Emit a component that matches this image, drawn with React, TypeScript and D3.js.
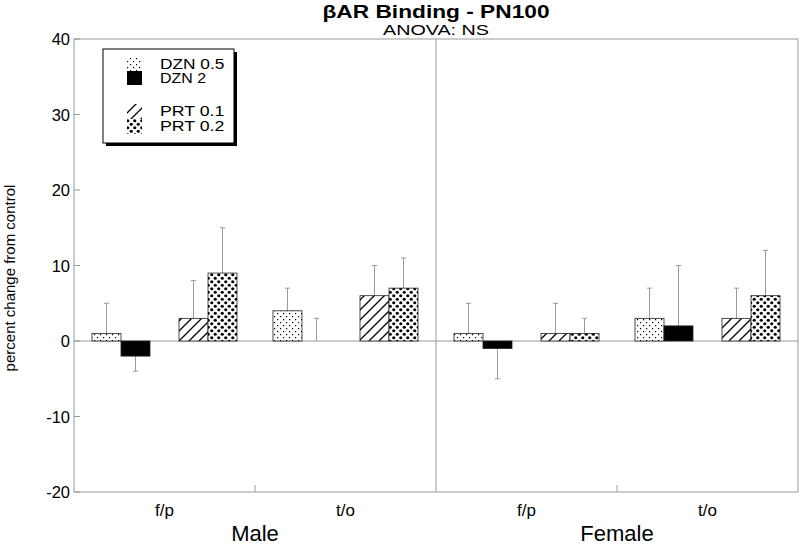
import React from "react";
import * as d3 from "d3";

const groupLabels = ["f/p", "t/o", "f/p", "t/o"];
const groupKeys = ["Male f/p", "Male t/o", "Female f/p", "Female t/o"];
const sexLabels = ["Male", "Female"];
const seriesNames = ["DZN 0.5", "DZN 2", "PRT 0.1", "PRT 0.2"];
const slots = ["DZN 0.5", "DZN 2", "gap", "PRT 0.1", "PRT 0.2"];
const dzn05Mean = [1, 4, 1, 3];
const dzn05Err = [4, 3, 4, 4];
const dzn2Mean = [-2, 0, -1, 2];
const dzn2Err = [2, 3, 4, 8];
const prt01Mean = [3, 6, 1, 3];
const prt01Err = [5, 4, 4, 4];
const prt02Mean = [9, 7, 1, 6];
const prt02Err = [6, 4, 2, 6];
const yTicks = [-20, -10, 0, 10, 20, 30, 40];

const seriesMeans = [dzn05Mean, dzn2Mean, prt01Mean, prt02Mean];
const seriesErrs = [dzn05Err, dzn2Err, prt01Err, prt02Err];
const fills = ["url(#pDots)", "#000", "url(#pHatch)", "url(#pBig)"];

const FONT = "'Liberation Sans', Arial, Helvetica, sans-serif";

export default function App() {
  const W = 800, H = 546;
  const left = 74, right = 798, top = 39, bottom = 492;
  const y = d3.scaleLinear().domain([-20, 40]).range([bottom, top]);
  const xg = d3.scaleBand<string>().domain(groupKeys).range([left, right]).padding(0);
  const xs = d3
    .scaleBand<string>()
    .domain(slots)
    .range([0, xg.bandwidth()])
    .paddingInner(0)
    .paddingOuter(0.62);
  const grey = "#9a9a9a";

  const bars: any[] = [];
  groupKeys.forEach((g, gi) => {
    seriesNames.forEach((s, si) => {
      const v = seriesMeans[si][gi];
      const e = seriesErrs[si][gi];
      bars.push({ g, gi, s, si, v, e, x: (xg(g) as number) + (xs(s) as number), w: xs.bandwidth() });
    });
  });

  const legendItems = [
    { name: seriesNames[0], fill: fills[0], y: 57 },
    { name: seriesNames[1], fill: fills[1], y: 71 },
    { name: seriesNames[2], fill: fills[2], y: 104 },
    { name: seriesNames[3], fill: fills[3], y: 119 },
  ];

  return (
    <svg width={W} height={H} style={{ position: "absolute", left: 0, top: 0, background: "#fff" }} fontFamily={FONT}>
      <defs>
        <pattern id="pDots" width="6" height="6" patternUnits="userSpaceOnUse">
          <rect width="6" height="6" fill="#fff" />
          <rect x="1" y="1" width="1.2" height="1.2" fill="#000" />
          <rect x="4" y="4" width="1.2" height="1.2" fill="#000" />
        </pattern>
        <pattern id="pBig" width="7" height="7" patternUnits="userSpaceOnUse">
          <rect width="7" height="7" fill="#fff" />
          <circle cx="1.75" cy="1.75" r="1.6" fill="#000" />
          <circle cx="5.25" cy="5.25" r="1.6" fill="#000" />
        </pattern>
        <pattern id="pHatch" width="10" height="10" patternUnits="userSpaceOnUse">
          <rect width="10" height="10" fill="#fff" />
          <path d="M-1,11 L11,-1 M-6,6 L6,-6 M4,16 L16,4" stroke="#000" strokeWidth="1.3" />
        </pattern>
      </defs>

      {/* title */}
      <text x={436} y={18} textAnchor="middle" fontSize={19} fontWeight="bold" textLength={227} lengthAdjust="spacingAndGlyphs">
        βAR Binding - PN100
      </text>
      <text x={436} y={35} textAnchor="middle" fontSize={15} textLength={106} lengthAdjust="spacingAndGlyphs">
        ANOVA: NS
      </text>

      {/* frame */}
      <rect x={left} y={top} width={right - left} height={bottom - top} fill="none" stroke={grey} strokeWidth={1} />
      <line x1={xg("Female f/p")} x2={xg("Female f/p")} y1={top} y2={bottom} stroke={grey} strokeWidth={1} />
      {[xg("Male t/o"), xg("Female t/o")].map((x, i) => (
        <line key={i} x1={x} x2={x} y1={bottom} y2={bottom - 7} stroke={grey} strokeWidth={1} />
      ))}

      {/* y axis */}
      {yTicks.map((t) => (
        <g key={t}>
          <line x1={left} x2={left + 6} y1={y(t)} y2={y(t)} stroke={grey} />
          <text x={70} y={y(t) + 6} textAnchor="end" fontSize={16.5}>{t}</text>
        </g>
      ))}
      <text
        transform={`translate(15,278) rotate(-90)`}
        textAnchor="middle"
        fontSize={15}
      >
        percent change from control
      </text>

      {/* zero line */}
      <line x1={left} x2={right} y1={y(0)} y2={y(0)} stroke={grey} strokeWidth={1} />

      {/* error bars */}
      {bars.map((b, i) => {
        const cx = b.x + b.w / 2;
        const end = b.v >= 0 ? b.v + b.e : b.v - b.e;
        return (
          <g key={"e" + i} stroke={grey} strokeWidth={1}>
            <line x1={cx} x2={cx} y1={y(b.v)} y2={y(end)} />
            <line x1={cx - 2.5} x2={cx + 2.5} y1={y(end)} y2={y(end)} />
          </g>
        );
      })}

      {/* bars */}
      {bars.filter((b) => b.v !== 0).map((b, i) => (
        <rect
          key={"b" + i}
          x={b.x}
          y={Math.min(y(b.v), y(0))}
          width={b.w}
          height={Math.abs(y(b.v) - y(0))}
          fill={fills[b.si]}
          stroke="#222"
          strokeWidth={0.8}
        />
      ))}

      {/* category labels */}
      {groupKeys.map((g, i) => (
        <text key={g} x={(xg(g) as number) + xg.bandwidth() / 2} y={516} textAnchor="middle" fontSize={17}>
          {groupLabels[i]}
        </text>
      ))}
      {sexLabels.map((s, i) => (
        <text
          key={s}
          x={(xg(groupKeys[i * 2]) as number) + xg.bandwidth()}
          y={541}
          textAnchor="middle"
          fontSize={22}
        >
          {s}
        </text>
      ))}

      {/* legend */}
      <rect x={106} y={52} width={131} height={94} fill="#000" />
      <rect x={103} y={49} width={131} height={94} fill="#fff" stroke="#000" strokeWidth={1} />
      {legendItems.map((it) => (
        <g key={it.name}>
          <rect x={127} y={it.y} width={15} height={it.name.startsWith("PRT") ? 15 : 14} fill={it.fill} stroke="none" />
          <text x={160} y={it.y + 11.5} fontSize={15.5} textLength={it.name.length * 9.2} lengthAdjust="spacingAndGlyphs">{it.name}</text>
        </g>
      ))}
    </svg>
  );
}
